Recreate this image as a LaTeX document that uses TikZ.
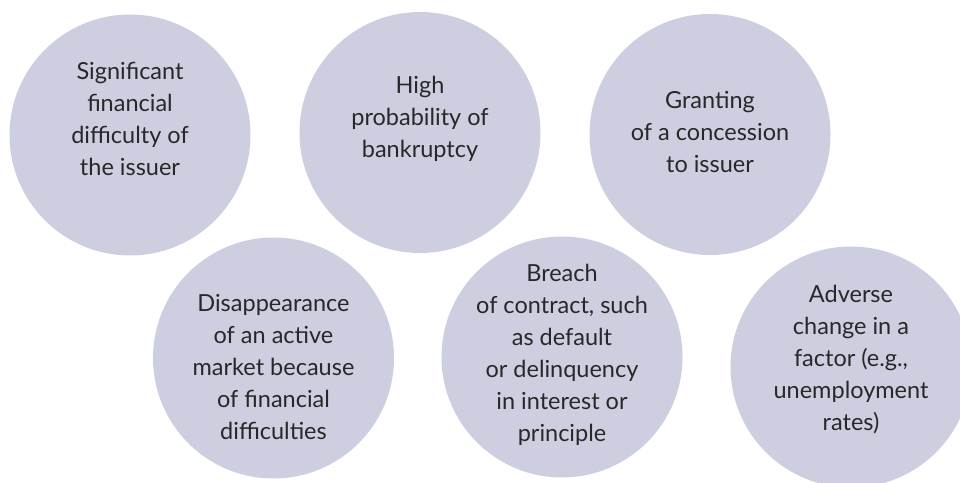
\documentclass[tikz,border=0pt]{standalone}
\usepackage{fontspec}
\setmainfont{Lato}
\definecolor{bubble}{RGB}{205,207,224}
\definecolor{ink}{RGB}{40,40,40}
\begin{document}
\begin{tikzpicture}[x=1pt,y=1pt,
	circ/.style={circle,fill=bubble,minimum size=241pt,inner sep=0pt},
	txt/.style={align=center,text=ink,font=\fontsize{23.5}{32}\selectfont}]
	\useasboundingbox (0,0) rectangle (960,482);
	\clip (0,0) rectangle (960,482);
	
	% top row
	\node[circ] (c1) at (130,347) {};
	\node[circ] (c2) at (420,349.5) {};
	\node[circ] (c3) at (710,347.5) {};
	
	% bottom row
	\node[circ] (c4) at (273.5,124) {};
	\node[circ] (c5) at (562,125) {};
	\node[circ] (c6) at (851,115) {};
	
	\node[txt] (t1) at (130,363) {Significant\\financial\\difficulty of\\the issuer};
	\node[txt] (t2) at (420,363) {High\\probability of\\bankruptcy};
	\node[txt] (t3) at (710,350) {Granting\\of a concession\\to issuer};
	\node[txt] (t4) at (273.5,114.5) {Disappearance\\of an active\\market because\\of financial\\difficulties};
	\node[txt] (t5) at (562,127) {Breach\\of contract, such\\as default\\or delinquency\\in interest or\\principle};
	\node[txt] (t6) at (851,122) {Adverse\\change in a\\factor (e.g.,\\unemployment\\rates)};
\end{tikzpicture}
\end{document}
